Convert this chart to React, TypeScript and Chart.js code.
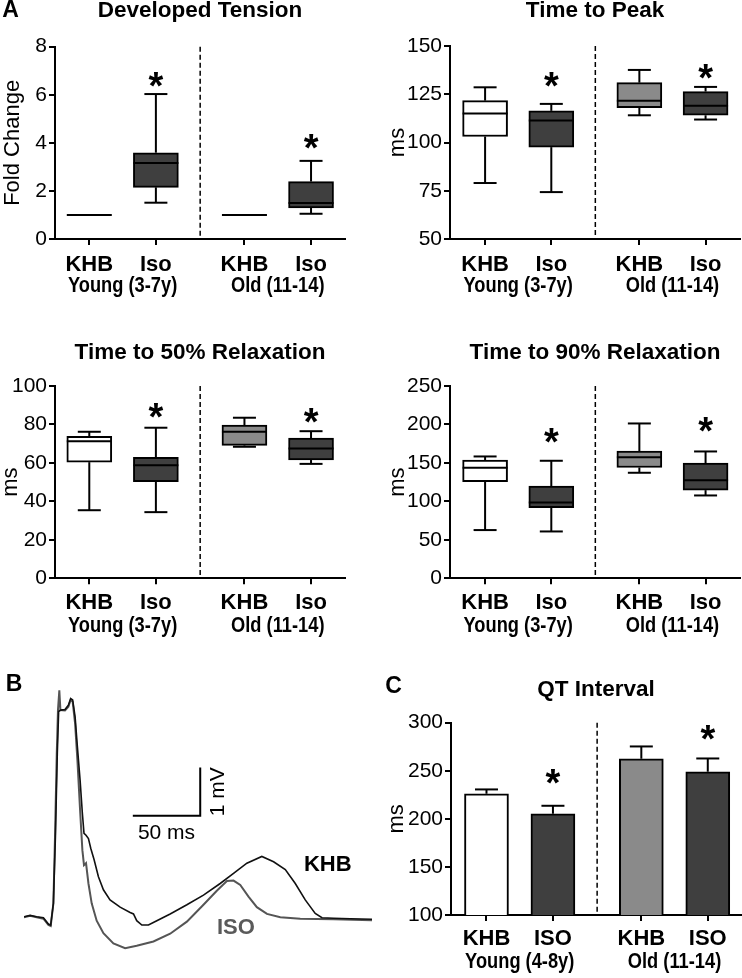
import React, { useEffect, useRef } from 'react';
import { Chart, registerables } from 'chart.js';

Chart.register(...registerables);

const FONT = '"Liberation Sans", Arial, Helvetica, sans-serif';
Chart.defaults.font.family = FONT;
Chart.defaults.color = '#000';

// ---------- shared category data ----------
const xPositions = [1, 2, 3.33, 4.33];
const xLabelsA = ['KHB', 'Iso', 'KHB', 'Iso'];
const xLabelsC = ['KHB', 'ISO', 'KHB', 'ISO'];
const groupLabelsA = ['Young (3-7y)', 'Old (11-14)'];
const groupLabelsC = ['Young (4-8y)', 'Old (11-14)'];
const fillColors = ['#ffffff', '#3f3f3f', '#8a8a8a', '#3f3f3f'];

// ---------- Developed Tension (fold change) ----------
const dtMin = [1, 1.51, 1, 1.05];
const dtQ1 = [1, 2.15, 1, 1.29];
const dtMed = [1, 3.16, 1, 1.5];
const dtQ3 = [1, 3.59, 1, 2.39];
const dtMax = [1, 6.03, 1, 3.25];
const dtStar = [null, 6.69, null, 4.12];

// ---------- Time to Peak (ms) ----------
const ttpMin = [79, 74.3, 114.1, 111.9];
const ttpQ1 = [103.1, 97.6, 118.1, 114.1];
const ttpMed = [115, 111.4, 121.6, 119.1];
const ttpQ3 = [121.7, 116.4, 131, 126.4];
const ttpMax = [128.6, 120, 137.6, 128.8];
const ttpStar = [null, 133.8, null, 137.9];

// ---------- Time to 50% Relaxation (ms) ----------
const t50Min = [35.4, 34.4, 68.4, 59.5];
const t50Q1 = [60.4, 50.3, 69.1, 61.5];
const t50Med = [71.3, 58.8, 76.2, 67.5];
const t50Q3 = [73.8, 62.9, 79.7, 72.9];
const t50Max = [76.2, 78.3, 83.5, 76.5];
const t50Star = [null, 88.3, null, 85.7];

// ---------- Time to 90% Relaxation (ms) ----------
const t90Min = [62.7, 60.9, 137.2, 107.7];
const t90Q1 = [125.5, 91.7, 144.1, 114.6];
const t90Med = [143.7, 98.6, 157.5, 127.6];
const t90Q3 = [153.6, 119.8, 165.3, 149.7];
const t90Max = [158.4, 152.8, 201.3, 164.9];
const t90Star = [null, 188.3, null, 202.6];

// ---------- QT Interval (ms, mean + SEM) ----------
const qtMean = [226.1, 205.3, 262.5, 249];
const qtSem = [4.5, 8.3, 12.8, 13.8];
const qtStar = [null, 245.5, null, 291.6];

// ---------- ECG traces (ms, mV) ----------
const khbT = [0, 4.5, 9.4, 14.4, 18.1, 19.8, 21.8, 23.3, 24.7, 25.7, 27.2, 30.4, 32.9, 34.6, 36.1, 37.9, 39.6, 41.6, 43.3, 44.5, 46.0, 47.8, 49.5, 52.0, 55.2, 58.9, 63.8, 71.3, 78.7, 81.2, 83.6, 87.4, 92.3, 98.5, 108.4, 120.8, 133.1, 145.5, 155.4, 165.3, 176.4, 185.1, 193.8, 201.2, 208.6, 216.0, 221.0, 229.6, 242.0, 258.1];
const khbV = [0.01, 0.04, 0.01, -0.01, -0.14, -0.16, 0.29, 1.67, 3.39, 4.26, 4.29, 4.30, 4.39, 4.53, 4.50, 4.15, 3.53, 2.84, 2.15, 1.74, 1.70, 1.63, 1.43, 1.19, 0.84, 0.57, 0.36, 0.21, 0.10, 0.07, -0.07, -0.16, -0.16, -0.07, 0.07, 0.26, 0.46, 0.70, 0.91, 1.12, 1.26, 1.15, 0.99, 0.70, 0.36, 0.08, -0.01, -0.02, -0.03, -0.04];
const isoT = [0, 4.5, 9.4, 14.4, 18.1, 19.8, 21.8, 23.0, 24.3, 25.2, 26.2, 27.0, 30.4, 32.9, 34.6, 36.1, 37.9, 39.6, 41.6, 43.3, 44.5, 46.0, 47.8, 50.2, 53.9, 58.9, 66.3, 75.0, 83.6, 96.0, 108.4, 120.8, 133.1, 143.0, 150.5, 155.4, 160.4, 166.5, 172.7, 180.2, 190.1, 204.9, 229.6, 258.1];
const isoV = [0, 0.03, 0, -0.03, -0.16, -0.18, 0.29, 1.67, 3.39, 4.29, 4.70, 4.29, 4.28, 4.36, 4.50, 4.46, 4.01, 3.26, 2.22, 1.39, 1.08, 1.12, 0.70, 0.29, -0.07, -0.33, -0.54, -0.64, -0.59, -0.50, -0.34, -0.09, 0.26, 0.55, 0.75, 0.76, 0.67, 0.43, 0.21, 0.07, 0, -0.03, -0.04, -0.06];
const scaleBarMs = 50;
const scaleBarMv = 1;
const scaleBarStartT = 80.7;
const scaleBarBaseV = 2.1;
const traceLabelKhb = { text: 'KHB', t: 225.3, v: 1.08 };
const traceLabelIso = { text: 'ISO', t: 157.2, v: -0.23 };

// ---------- layout ----------
type Area = { l: number; t: number; r: number; b: number };
type BoxData = { min: number[]; q1: number[]; med: number[]; q3: number[]; max: number[] };
type PanelCfg = {
  id: string;
  left: number; top: number; width: number; height: number;
  area: Area;
  title: string; titleCenter: number;
  yTitle: string; yTitleCenter: number;
  yMin: number; yMax: number; yStep: number;
  xMin: number; xMax: number;
  xLabels: string[]; groupLabels: string[];
  labelCenter: number;
  letter?: { text: string; x: number; y: number };
  box?: BoxData;
  bar?: { mean: number[]; sem: number[] };
  stars: (number | null)[];
};

const TITLE_SIZE = 22.5;
const XLABEL_SIZE = 22;
const YTICK_SIZE = 21;
const YTITLE_SIZE = 22;

const panels: PanelCfg[] = [
  {
    id: 'dt', left: 0, top: 0, width: 371, height: 330,
    area: { l: 55, t: 46.7, r: 345, b: 239 },
    title: 'Developed Tension', titleCenter: 10.5,
    yTitle: 'Fold Change', yTitleCenter: 12.5,
    yMin: 0, yMax: 8, yStep: 2, xMin: 0.485, xMax: 4.84,
    xLabels: xLabelsA, groupLabels: groupLabelsA, labelCenter: 26,
    letter: { text: 'A', x: 10.5, y: 11 },
    box: { min: dtMin, q1: dtQ1, med: dtMed, q3: dtQ3, max: dtMax },
    stars: dtStar,
  },
  {
    id: 'ttp', left: 371, top: 0, width: 371, height: 330,
    area: { l: 79, t: 46, r: 369, b: 239 },
    title: 'Time to Peak', titleCenter: 10.5,
    yTitle: 'ms', yTitleCenter: 26.7,
    yMin: 50, yMax: 150, yStep: 25, xMin: 0.47, xMax: 4.85,
    xLabels: xLabelsA, groupLabels: groupLabelsA, labelCenter: 26,
    box: { min: ttpMin, q1: ttpQ1, med: ttpMed, q3: ttpQ3, max: ttpMax },
    stars: ttpStar,
  },
  {
    id: 't50', left: 0, top: 330, width: 371, height: 330,
    area: { l: 55, t: 56, r: 345, b: 248.3 },
    title: 'Time to 50% Relaxation', titleCenter: 23,
    yTitle: 'ms', yTitleCenter: 10.5,
    yMin: 0, yMax: 100, yStep: 20, xMin: 0.485, xMax: 4.84,
    xLabels: xLabelsA, groupLabels: groupLabelsA, labelCenter: 25,
    box: { min: t50Min, q1: t50Q1, med: t50Med, q3: t50Q3, max: t50Max },
    stars: t50Star,
  },
  {
    id: 't90', left: 371, top: 330, width: 371, height: 330,
    area: { l: 79, t: 56, r: 369, b: 248.3 },
    title: 'Time to 90% Relaxation', titleCenter: 23,
    yTitle: 'ms', yTitleCenter: 27,
    yMin: 0, yMax: 250, yStep: 50, xMin: 0.47, xMax: 4.85,
    xLabels: xLabelsA, groupLabels: groupLabelsA, labelCenter: 25,
    box: { min: t90Min, q1: t90Q1, med: t90Med, q3: t90Q3, max: t90Max },
    stars: t90Star,
  },
  {
    id: 'qt', left: 371, top: 670, width: 371, height: 308,
    area: { l: 80, t: 52.7, r: 370, b: 245 },
    title: 'QT Interval', titleCenter: 19.3,
    yTitle: 'ms', yTitleCenter: 26.3,
    yMin: 100, yMax: 300, yStep: 50, xMin: 0.466, xMax: 4.83,
    xLabels: xLabelsC, groupLabels: groupLabelsC, labelCenter: 23.5,
    letter: { text: 'C', x: 22.5, y: 16.7 },
    bar: { mean: qtMean, sem: qtSem },
    stars: qtStar,
  },
];

const ecgLayout = { left: 0, top: 670, width: 380, height: 308 };

function buildPanel(canvas: HTMLCanvasElement, c: PanelCfg) {
  const { area } = c;
  const boxW = c.box ? 45 : 44;
  const capHalf = 11.5;
  const data = xPositions.map((x, i) => ({
    x,
    y: c.box ? [c.box.q1[i], c.box.q3[i]] : c.bar!.mean[i],
  }));
  const titleTop = Math.max(0, c.titleCenter - TITLE_SIZE / 2);
  const titleBottom = area.t - TITLE_SIZE - titleTop;
  const xLabelLH = XLABEL_SIZE * 1.2;
  const tickPad = c.labelCenter - 6 - xLabelLH / 2;

  const decor = {
    id: 'decor-' + c.id,
    afterDatasetsDraw(chart: any) {
      const { ctx, chartArea, scales } = chart;
      const xs = scales.x;
      const ys = scales.y;
      ctx.save();
      ctx.strokeStyle = '#000';
      ctx.lineWidth = 2;
      const line = (x0: number, y0: number, x1: number, y1: number) => {
        ctx.beginPath();
        ctx.moveTo(x0, y0);
        ctx.lineTo(x1, y1);
        ctx.stroke();
      };
      xPositions.forEach((xv, i) => {
        const px = xs.getPixelForValue(xv);
        if (c.box) {
          const b = c.box;
          if (b.max[i] > b.q3[i]) {
            const yTop = ys.getPixelForValue(b.max[i]);
            line(px, ys.getPixelForValue(b.q3[i]), px, yTop);
            line(px - capHalf, yTop, px + capHalf, yTop);
          }
          if (b.min[i] < b.q1[i]) {
            const yBot = ys.getPixelForValue(b.min[i]);
            line(px, ys.getPixelForValue(b.q1[i]), px, yBot);
            line(px - capHalf, yBot, px + capHalf, yBot);
          }
          const ym = ys.getPixelForValue(b.med[i]);
          line(px - boxW / 2, ym, px + boxW / 2, ym);
        } else if (c.bar) {
          const yTop = ys.getPixelForValue(c.bar.mean[i]);
          const yErr = ys.getPixelForValue(c.bar.mean[i] + c.bar.sem[i]);
          line(px, yTop, px, yErr);
          line(px - capHalf, yErr, px + capHalf, yErr);
        }
      });
      // dashed separator between age groups
      const dx = xs.getPixelForValue((xPositions[1] + xPositions[2]) / 2);
      ctx.lineWidth = 1.5;
      ctx.setLineDash([5, 3]);
      line(dx, chartArea.top, dx, chartArea.bottom);
      ctx.setLineDash([]);
      ctx.restore();
    },
    afterDraw(chart: any) {
      const { ctx, chartArea, scales } = chart;
      const xs = scales.x;
      const ys = scales.y;
      ctx.save();
      ctx.fillStyle = '#000';
      // significance asterisks
      const starSize = 38;
      ctx.font = `bold ${starSize}px ${FONT}`;
      ctx.textAlign = 'center';
      ctx.textBaseline = 'alphabetic';
      c.stars.forEach((s, i) => {
        if (s === null) return;
        ctx.fillText('*', xs.getPixelForValue(xPositions[i]), ys.getPixelForValue(s) + starSize * 0.56);
      });
      // group labels
      ctx.font = `bold 21.5px ${FONT}`;
      ctx.textBaseline = 'middle';
      c.groupLabels.forEach((g, gi) => {
        const cx = xs.getPixelForValue((xPositions[gi * 2] + xPositions[gi * 2 + 1]) / 2);
        ctx.save();
        ctx.translate(cx, chartArea.bottom + 47.5);
        ctx.scale(0.85, 1);
        ctx.fillText(g, 0, 0);
        ctx.restore();
      });
      // panel letter
      if (c.letter) {
        ctx.font = `bold 23px ${FONT}`;
        ctx.textAlign = 'center';
        ctx.fillText(c.letter.text, c.letter.x, c.letter.y);
      }
      ctx.restore();
    },
  };

  const axisGrid = {
    display: true,
    drawOnChartArea: false,
    drawTicks: true,
    tickLength: 6,
    color: '#000',
    lineWidth: 2,
    offset: false,
  };
  const axisBorder = { display: true, color: '#000', width: 2 };

  return new Chart(canvas, {
    type: 'bar',
    data: {
      datasets: [
        {
          data: data as any,
          backgroundColor: fillColors,
          borderColor: '#000',
          borderWidth: 2,
          borderSkipped: false,
          barThickness: boxW,
        } as any,
      ],
    },
    options: {
      animation: false,
      responsive: false,
      events: [],
      layout: { padding: { left: 0, top: 0, right: c.width - area.r, bottom: 0 } },
      plugins: {
        legend: { display: false },
        tooltip: { enabled: false },
        title: {
          display: true,
          text: c.title,
          fullSize: false,
          color: '#000',
          font: { size: TITLE_SIZE, weight: 'bold', lineHeight: 1 },
          padding: { top: titleTop, bottom: titleBottom },
        },
      },
      scales: {
        x: {
          type: 'linear',
          min: c.xMin,
          max: c.xMax,
          offset: false,
          afterBuildTicks: (axis: any) => {
            axis.ticks = xPositions.map((v) => ({ value: v }));
          },
          afterFit: (axis: any) => {
            axis.height = c.height - area.b;
          },
          ticks: {
            autoSkip: false,
            maxRotation: 0,
            color: '#000',
            padding: tickPad,
            font: { size: XLABEL_SIZE, weight: 'bold', lineHeight: 1.2 },
            callback: (_v: any, i: number) => c.xLabels[i],
          },
          grid: axisGrid,
          border: axisBorder,
        },
        y: {
          type: 'linear',
          min: c.yMin,
          max: c.yMax,
          beginAtZero: false,
          afterFit: (axis: any) => {
            axis.width = area.l;
          },
          ticks: {
            stepSize: c.yStep,
            color: '#000',
            padding: 2,
            font: { size: YTICK_SIZE },
          },
          grid: axisGrid,
          border: axisBorder,
          title: {
            display: true,
            text: c.yTitle,
            color: '#000',
            font: { size: YTITLE_SIZE, lineHeight: 1 },
            padding: { top: Math.max(0, c.yTitleCenter - YTITLE_SIZE / 2), bottom: 0 },
          },
        },
      },
    } as any,
    plugins: [decor],
  });
}

function buildEcg(canvas: HTMLCanvasElement) {
  const khb = khbT.map((t, i) => ({ x: t, y: khbV[i] }));
  const iso = isoT.map((t, i) => ({ x: t, y: isoV[i] }));
  const decor = {
    id: 'ecg-decor',
    afterDraw(chart: any) {
      const { ctx, scales } = chart;
      const xs = scales.x;
      const ys = scales.y;
      ctx.save();
      ctx.strokeStyle = '#000';
      ctx.fillStyle = '#000';
      ctx.lineWidth = 2;
      const x0 = xs.getPixelForValue(scaleBarStartT);
      const x1 = xs.getPixelForValue(scaleBarStartT + scaleBarMs);
      const y0 = ys.getPixelForValue(scaleBarBaseV);
      const y1 = ys.getPixelForValue(scaleBarBaseV + scaleBarMv);
      ctx.beginPath();
      ctx.moveTo(x0, y0);
      ctx.lineTo(x1, y0);
      ctx.lineTo(x1, y1);
      ctx.stroke();
      ctx.font = `21px ${FONT}`;
      ctx.textAlign = 'center';
      ctx.textBaseline = 'middle';
      ctx.fillText(`${scaleBarMs} ms`, (x0 + x1) / 2, y0 + 17);
      ctx.save();
      ctx.translate(x1 + 18, (y0 + y1) / 2);
      ctx.rotate(-Math.PI / 2);
      ctx.fillText(`${scaleBarMv} mV`, 0, 0);
      ctx.restore();
      ctx.font = `bold 22px ${FONT}`;
      ctx.fillText(traceLabelKhb.text, xs.getPixelForValue(traceLabelKhb.t), ys.getPixelForValue(traceLabelKhb.v));
      ctx.fillStyle = '#5a5a5a';
      ctx.fillText(traceLabelIso.text, xs.getPixelForValue(traceLabelIso.t), ys.getPixelForValue(traceLabelIso.v));
      ctx.fillStyle = '#000';
      ctx.font = `bold 23px ${FONT}`;
      ctx.fillText('B', 14, 15);
      ctx.restore();
    },
  };
  return new Chart(canvas, {
    type: 'scatter',
    data: {
      datasets: [
        { label: 'KHB', data: khb, showLine: true, borderColor: '#111111', borderWidth: 1.6, pointRadius: 0, tension: 0 },
        { label: 'ISO', data: iso, showLine: true, borderColor: '#555555', borderWidth: 2, pointRadius: 0, tension: 0 },
      ],
    },
    options: {
      animation: false,
      responsive: false,
      events: [],
      layout: { padding: { left: 24, right: 8, top: 5.8, bottom: 12.4 } },
      plugins: { legend: { display: false }, tooltip: { enabled: false } },
      scales: {
        x: { type: 'linear', display: false, min: 0, max: 258.1 },
        y: { type: 'linear', display: false, min: -1, max: 5 },
      },
    } as any,
    plugins: [decor],
  });
}

function PanelChart({ cfg }: { cfg: PanelCfg }) {
  const ref = useRef<HTMLCanvasElement | null>(null);
  useEffect(() => {
    if (!ref.current) return;
    const chart = buildPanel(ref.current, cfg);
    return () => chart.destroy();
  }, [cfg]);
  return (
    <div style={{ position: 'absolute', left: cfg.left, top: cfg.top, width: cfg.width, height: cfg.height }}>
      <canvas ref={ref} width={cfg.width} height={cfg.height} style={{ width: cfg.width, height: cfg.height, display: 'block' }} />
    </div>
  );
}

function EcgChart() {
  const ref = useRef<HTMLCanvasElement | null>(null);
  useEffect(() => {
    if (!ref.current) return;
    const chart = buildEcg(ref.current);
    return () => chart.destroy();
  }, []);
  const L = ecgLayout;
  return (
    <div style={{ position: 'absolute', left: L.left, top: L.top, width: L.width, height: L.height }}>
      <canvas ref={ref} width={L.width} height={L.height} style={{ width: L.width, height: L.height, display: 'block' }} />
    </div>
  );
}

export default function App() {
  return (
    <div style={{ position: 'absolute', left: 0, top: 0, width: 742, height: 978, background: '#fff', overflow: 'hidden' }}>
      {panels.map((p) => (
        <PanelChart key={p.id} cfg={p} />
      ))}
      <EcgChart />
    </div>
  );
}
